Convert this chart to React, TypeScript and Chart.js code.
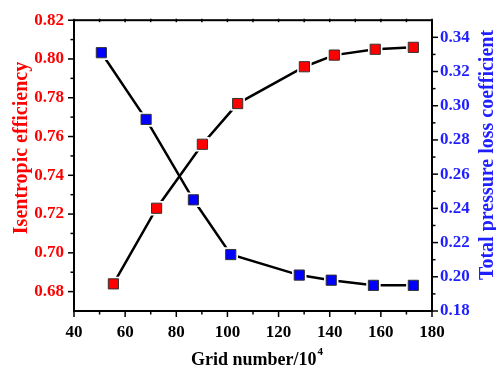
import React, { useEffect, useRef } from "react";
import { Chart, registerables } from "chart.js";

Chart.register(...registerables);

const effGrid = [55.4, 72.3, 90.2, 104.0, 130.1, 141.8, 157.8, 172.7];
const effValues = [0.684, 0.723, 0.756, 0.777, 0.796, 0.802, 0.805, 0.806];
const lossGrid = [50.7, 68.2, 86.7, 101.3, 128.1, 140.6, 157.1, 172.7];
const lossValues = [0.331, 0.292, 0.245, 0.213, 0.201, 0.198, 0.195, 0.195];

const xTicks = [40, 60, 80, 100, 120, 140, 160, 180];
const leftTicks = [0.68, 0.7, 0.72, 0.74, 0.76, 0.78, 0.8, 0.82];
const rightTicks = [0.18, 0.2, 0.22, 0.24, 0.26, 0.28, 0.3, 0.32, 0.34];

const xTitle = "Grid number/10";
const xTitleSup = "4";
const leftTitle = "Isentropic efficiency";
const rightTitle = "Total pressure loss coefficient";

const RED = "#ff0000";
const BLUE = "#1f1fff";
const FONT = "'Liberation Serif', 'Times New Roman', serif";

const mids = (arr: number[]) => {
  const out: number[] = [];
  for (let i = 0; i < arr.length - 1; i++) out.push((arr[i] + arr[i + 1]) / 2);
  return out;
};

const framePlugin = {
  id: "frame",
  afterDraw(chart: any) {
    const { ctx, chartArea: a, scales } = chart;
    ctx.save();
    ctx.strokeStyle = "#000";
    ctx.lineWidth = 2;
    ctx.strokeRect(a.left, a.top, a.right - a.left, a.bottom - a.top);
    ctx.lineWidth = 1.5;
    const x = scales.x, yl = scales.y, yr = scales.y1;
    const tick = (x1: number, y1: number, x2: number, y2: number) => {
      ctx.beginPath();
      ctx.moveTo(x1, y1);
      ctx.lineTo(x2, y2);
      ctx.stroke();
    };
    xTicks.forEach((v) => {
      const p = x.getPixelForValue(v);
      tick(p, a.bottom, p, a.bottom + 6);
      tick(p, a.top - 1.5, p, a.top + 2);
    });
    mids(xTicks).forEach((v) => {
      const p = x.getPixelForValue(v);
      tick(p, a.bottom, p, a.bottom + 3.5);
      tick(p, a.top - 1.5, p, a.top + 2);
    });
    leftTicks.forEach((v) => {
      const p = yl.getPixelForValue(v);
      tick(a.left - 6, p, a.left, p);
    });
    mids(leftTicks).forEach((v) => {
      const p = yl.getPixelForValue(v);
      tick(a.left - 3.5, p, a.left, p);
    });
    rightTicks.forEach((v) => {
      const p = yr.getPixelForValue(v);
      tick(a.right, p, a.right + 6, p);
    });
    mids(rightTicks).forEach((v) => {
      const p = yr.getPixelForValue(v);
      tick(a.right, p, a.right + 3.5, p);
    });

    // titles
    ctx.textAlign = "center";
    ctx.textBaseline = "alphabetic";
    ctx.font = `bold 20px ${FONT}`;
    ctx.fillStyle = RED;
    ctx.save();
    ctx.translate(27, 148);
    ctx.rotate(-Math.PI / 2);
    ctx.fillText(leftTitle, 0, 0);
    ctx.restore();

    ctx.fillStyle = BLUE;
    ctx.save();
    ctx.translate(493, 155);
    ctx.rotate(-Math.PI / 2);
    ctx.fillText(rightTitle, 0, 0);
    ctx.restore();

    ctx.fillStyle = "#000";
    ctx.font = `bold 18px ${FONT}`;
    const w1 = ctx.measureText(xTitle).width;
    ctx.font = `bold 11px ${FONT}`;
    const w2 = ctx.measureText(xTitleSup).width;
    const total = w1 + w2 + 1;
    const sx = 257 - total / 2;
    ctx.textAlign = "left";
    ctx.font = `bold 18px ${FONT}`;
    ctx.fillText(xTitle, sx, 365);
    ctx.font = `bold 11px ${FONT}`;
    ctx.fillText(xTitleSup, sx + w1 + 1, 355);
    ctx.restore();
  },
};

const MARK_R = 7.2;
const HALO_R = 10.2;

export default function App() {
  const ref = useRef<HTMLCanvasElement | null>(null);
  useEffect(() => {
    document.body.style.margin = "0";
    if (!ref.current) return;
    const tickFont = { family: FONT, size: 17, weight: "bold" as const };
    const effData = effGrid.map((g, i) => ({ x: g, y: effValues[i] }));
    const lossData = lossGrid.map((g, i) => ({ x: g, y: lossValues[i] }));
    const lineDs = (data: any, axis: string) => ({
      data,
      yAxisID: axis,
      showLine: true,
      borderColor: "#000",
      borderWidth: 2.5,
      pointRadius: 0,
      order: 3,
    });
    const haloDs = (data: any, axis: string) => ({
      data,
      yAxisID: axis,
      showLine: false,
      pointStyle: "rect",
      pointRadius: HALO_R,
      pointBackgroundColor: "#fff",
      pointBorderWidth: 0,
      pointBorderColor: "#fff",
      order: 2,
    });
    const markDs = (data: any, axis: string, color: string) => ({
      data,
      yAxisID: axis,
      showLine: false,
      pointStyle: "rect",
      pointRadius: MARK_R,
      pointBackgroundColor: color,
      pointBorderColor: "#333",
      pointBorderWidth: 1,
      order: 1,
    });
    const chart = new Chart(ref.current, {
      type: "scatter",
      data: {
        datasets: [
          lineDs(effData, "y"),
          lineDs(lossData, "y1"),
          haloDs(effData, "y"),
          haloDs(lossData, "y1"),
          markDs(effData, "y", RED),
          markDs(lossData, "y1", "#0000ff"),
        ] as any,
      },
      options: {
        animation: false,
        responsive: false,
        layout: { padding: { top: 14, left: 0, right: 0, bottom: 0 } },
        plugins: { legend: { display: false }, tooltip: { enabled: false } },
        scales: {
          x: {
            type: "linear",
            position: "bottom",
            min: 40,
            max: 180,
            afterBuildTicks: (s: any) => {
              s.ticks = xTicks.map((v) => ({ value: v }));
            },
            afterFit: (s: any) => {
              s.height = 58;
            },
            grid: { display: false, drawTicks: false },
            border: { display: false },
            ticks: { color: "#000", font: tickFont, padding: 11, maxRotation: 0, autoSkip: false },
          },
          y: {
            type: "linear",
            position: "left",
            min: 0.67,
            max: 0.82,
            afterBuildTicks: (s: any) => {
              s.ticks = leftTicks.map((v) => ({ value: v }));
            },
            afterFit: (s: any) => {
              s.width = 74;
            },
            grid: { display: false, drawTicks: false },
            border: { display: false },
            ticks: {
              color: RED,
              font: tickFont,
              padding: 10,
              autoSkip: false,
              callback: (v: any) => Number(v).toFixed(2),
            },
          },
          y1: {
            type: "linear",
            position: "right",
            min: 0.18,
            max: 0.35,
            afterBuildTicks: (s: any) => {
              s.ticks = rightTicks.map((v) => ({ value: v }));
            },
            afterFit: (s: any) => {
              s.width = 64;
            },
            grid: { display: false, drawTicks: false },
            border: { display: false },
            ticks: {
              color: BLUE,
              font: tickFont,
              padding: 8,
              autoSkip: false,
              callback: (v: any) => Number(v).toFixed(2),
            },
          },
        },
      },
      plugins: [framePlugin],
    });
    return () => chart.destroy();
  }, []);
  return (
    <div style={{ width: 496, height: 369 }}>
      <canvas ref={ref} width={496} height={369} style={{ display: "block" }} />
    </div>
  );
}
